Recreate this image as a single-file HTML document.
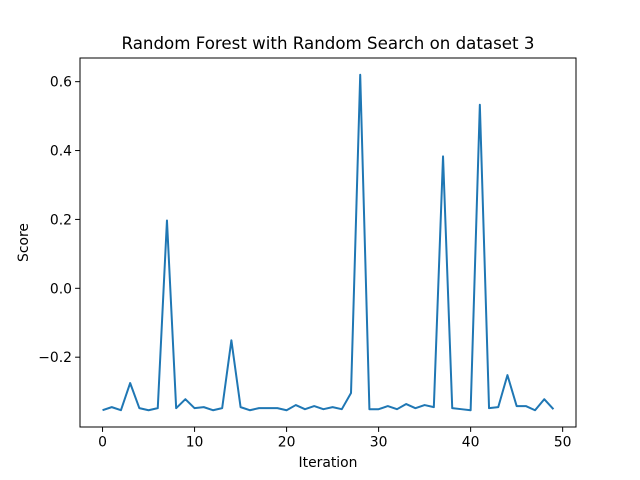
<!DOCTYPE html>
<html><head><meta charset="utf-8"><style>
body{margin:0;background:#fff;}
svg{display:block;font-family:"DejaVu Sans","Liberation Sans",sans-serif;}
</style></head><body>
<svg id="chart" width="640" height="480" viewBox="0 0 640 480">
<rect x="0" y="0" width="640" height="480" fill="#fff"/>
<text x="328" y="49" text-anchor="middle" font-size="16.67">Random Forest with Random Search on dataset 3</text>
<g id="xt"></g>
<g id="yt"></g>
<path id="line" fill="none" stroke="#1f77b4" stroke-width="2" stroke-linejoin="round"/>
<rect x="80" y="58" width="496" height="369" fill="none" stroke="#000" stroke-width="1"/>
<text x="328" y="467" text-anchor="middle" font-size="13.9">Iteration</text>
<text x="0" y="0" transform="translate(28,242.5) rotate(-90)" text-anchor="middle" font-size="13.9">Score</text>
</svg>
<script>
const scores=[-0.354,-0.345,-0.354,-0.275,-0.348,-0.354,-0.348,0.197,-0.348,-0.322,-0.348,-0.345,-0.354,-0.348,-0.151,-0.345,-0.354,-0.348,-0.348,-0.348,-0.354,-0.339,-0.351,-0.342,-0.351,-0.345,-0.351,-0.304,0.620,-0.351,-0.351,-0.342,-0.351,-0.336,-0.348,-0.339,-0.345,0.383,-0.348,-0.351,-0.354,0.533,-0.348,-0.345,-0.252,-0.342,-0.342,-0.354,-0.322,-0.351];
const xTicks=[0,10,20,30,40,50];
const yTicks=[-0.2,0.0,0.2,0.4,0.6];
const yTickLabels=["\u22120.2","0.0","0.2","0.4","0.6"];
const NS="http://www.w3.org/2000/svg";
const L=80,R=576,T=58,B=427;
const n=scores.length;
const xmin=-0.05*(n-1),xmax=(n-1)*1.05;
const dmin=Math.min(...scores),dmax=Math.max(...scores),pad=(dmax-dmin)*0.05;
const ymin=dmin-pad,ymax=dmax+pad;
const xs=v=>L+(v-xmin)/(xmax-xmin)*(R-L);
const ys=v=>B-(v-ymin)/(ymax-ymin)*(B-T);
function mk(tag,attrs,parent){const e=document.createElementNS(NS,tag);for(const k in attrs)e.setAttribute(k,attrs[k]);parent.appendChild(e);return e;}
const xt=document.getElementById('xt'),yt=document.getElementById('yt');
xTicks.forEach(v=>{const x=xs(v);
 const l=mk('line',{x1:x,x2:x,y1:B,y2:B+4.9,stroke:'#000','stroke-width':1},xt);
 
 
 const t=mk('text',{x:x,y:B+19.5,'text-anchor':'middle','font-size':13.9},xt);t.textContent=v;
 
 
});
yTicks.forEach((v,i)=>{const y=ys(v);
 const l=mk('line',{x1:L-4.9,x2:L,y1:y,y2:y,stroke:'#000','stroke-width':1},yt);
 
 
 const t=mk('text',{x:L-8,y:y+5,'text-anchor':'end','font-size':13.9},yt);t.textContent=yTickLabels[i];
 
 
});
document.getElementById('line').setAttribute('d',scores.map((v,i)=>(i?'L':'M')+xs(i).toFixed(2)+','+ys(v).toFixed(2)).join(''));
</script>
</body></html>
